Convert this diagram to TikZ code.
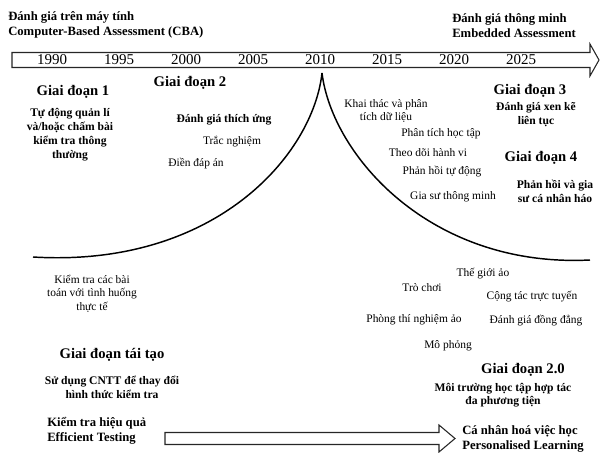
\documentclass[tikz,border=0pt]{standalone}
\usepackage{fontspec}
\setmainfont{Liberation Serif}
\begin{document}
\begin{tikzpicture}[x=0.75pt,y=-0.75pt,
  year/.style={font=\fontsize{11.25}{13}\selectfont, inner sep=0pt},
  hdr/.style={font=\bfseries\fontsize{9.5}{11.25}\selectfont, align=left, anchor=west, inner sep=0pt},
  phase/.style={font=\bfseries\fontsize{11}{13}\selectfont, inner sep=0pt},
  desc/.style={font=\bfseries\fontsize{8.7}{10.5}\selectfont, align=center, inner sep=0pt},
  item/.style={font=\fontsize{8.6}{10}\selectfont, align=center, inner sep=0pt},
  blockarrow/.style={draw=black!85, line width=0.8pt, fill=white, line join=miter},
  curve/.style={line width=1.1pt}]
\useasboundingbox (0,0) rectangle (600,453);

% top timeline arrow
\draw[blockarrow] (12,52.5) -- (590,52.5) -- (590,44) -- (599,60) -- (590,76) -- (590,67.5) -- (12,67.5) -- cycle;
% bottom arrow
\draw[blockarrow] (165,432.5) -- (439,432.5) -- (439,425) -- (455,438.5) -- (439,452) -- (439,444.5) -- (165,444.5) -- cycle;

% headers
\node[hdr] (hdrL) at (8,24.5) {Đánh giá trên máy tính\\Computer-Based Assessment (CBA)};
\node[hdr] (hdrR) at (452,26) {Đánh giá thông minh\\Embedded Assessment};

% years
\node[year] (y1990) at (52,60) {1990};
\node[year] (y1995) at (119,60) {1995};
\node[year] (y2000) at (186,60) {2000};
\node[year] (y2005) at (253,60) {2005};
\node[year] (y2010) at (320,60) {2010};
\node[year] (y2015) at (387,60) {2015};
\node[year] (y2020) at (454,60) {2020};
\node[year] (y2025) at (521,60) {2025};

% curves
\coordinate (peak) at (322,73);
\coordinate (lend) at (33,257);
\coordinate (rend) at (590,260);
\draw[curve] (peak) .. controls (313,155) and (215,268) .. (lend);
\draw[curve] (peak) .. controls (332,155) and (430,268) .. (rend);

% phase 1
\node[phase] (p1) at (73,92) {Giai đoạn 1};
\node[desc] (d1) at (70,135) {Tự động quản lí\\và/hoặc chấm bài\\kiểm tra thông\\thường};

% phase 2
\node[phase] (p2) at (190,83) {Giai đoạn 2};
\node[desc] (d2) at (224,120) {Đánh giá thích ứng};
\node[item] (trac) at (232,142) {Trắc nghiệm};
\node[item] (dien) at (196,164) {Điền đáp án};

% right items
\node[item, font=\fontsize{8.6}{9.75}\selectfont] (khai) at (386,110.5) {Khai thác và phân\\tích dữ liệu};
\node[item] (ptht) at (441,134) {Phân tích học tập};
\node[item] (tdhv) at (428,153) {Theo dõi hành vi};
\node[item] (phtd) at (442,172) {Phản hồi tự động};
\node[item] (gstm) at (453,197) {Gia sư thông minh};

% phase 3, 4
\node[phase] (p3) at (530,91) {Giai đoạn 3};
\node[desc, font=\bfseries\fontsize{8.7}{10}\selectfont] (d3) at (536,114.5) {Đánh giá xen kẽ\\liên tục};
\node[phase] (p4) at (541,158) {Giai đoạn 4};
\node[desc, font=\bfseries\fontsize{8.7}{10}\selectfont] (d4) at (555,191.5) {Phản hồi và gia\\sư cá nhân háo};

% lower left
\node[item] (ktcb) at (92,293.5) {Kiểm tra các bài\\toán với tình huống\\thực tế};
\node[phase] (ptt) at (112,355) {Giai đoạn tái tạo};
\node[desc, font=\bfseries\fontsize{8.7}{10}\selectfont] (dtt) at (112,387.5) {Sử dụng CNTT để thay đổi\\hình thức kiểm tra};
\node[hdr] (eff) at (47,431) {Kiểm tra hiệu quả\\Efficient Testing};

% lower right
\node[item] (tgao) at (483,274) {Thế giới ảo};
\node[item] (trch) at (422,288) {Trò chơi};
\node[item] (cttt) at (532,297) {Cộng tác trực tuyến};
\node[item] (ptn) at (414,320) {Phòng thí nghiệm ảo};
\node[item] (dgdd) at (536,321) {Đánh giá đồng đẳng};
\node[item] (mp) at (448,346) {Mô phỏng};
\node[phase] (p20) at (523,370) {Giai đoạn 2.0};
\node[desc, font=\bfseries\fontsize{8.7}{10}\selectfont] (d20) at (503,395.5) {Môi trường học tập hợp tác\\đa phương tiện};
\node[hdr] (pers) at (462,439) {Cá nhân hoá việc học\\Personalised Learning};
\end{tikzpicture}
\end{document}
